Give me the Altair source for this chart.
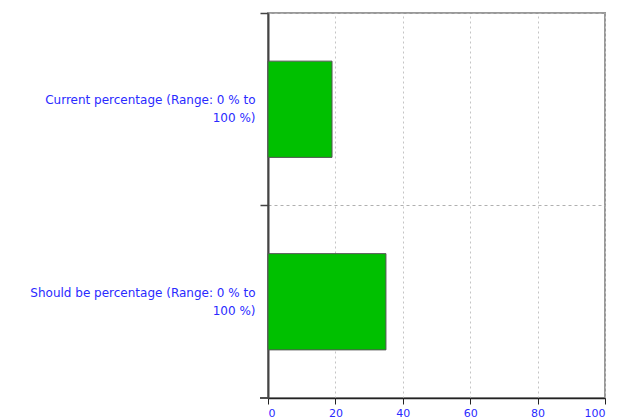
import altair as alt
import pandas as pd

categories = ["Current percentage (Range: 0 % to 100 %)",
              "Should be percentage (Range: 0 % to 100 %)"]
values = [19, 35]
x_ticks = [0, 20, 40, 60, 80, 100]

df = pd.DataFrame({"category": categories, "value": values})

label_color = "#2a2aff"

bars = alt.Chart(df).mark_bar(
    color="#00c000", stroke="#555555", strokeWidth=1, height={"band": 0.5}
).encode(
    x=alt.X("value:Q", scale=alt.Scale(domain=[0, 100], nice=False),
            axis=alt.Axis(values=x_ticks, title=None, grid=True, gridDash=[2, 3],
                          gridColor="#c4c4c4", domainColor="#222222", domainWidth=1.5,
                          tickColor="#222222", tickSize=6, labelColor=label_color,
                          labelFont="DejaVu Sans", labelFontSize=11, labelPadding=3)),
    y=alt.Y("category:N", sort=categories,
            scale=alt.Scale(paddingInner=0, paddingOuter=0),
            axis=alt.Axis(title=None, bandPosition=0, grid=True, gridDash=[3, 3],
                          gridColor="#b0b0b0", domainColor="#444444", domainWidth=2,
                          tickColor="#444444", tickSize=8, tickWidth=1.5,
                          labelColor=label_color, labelFont="DejaVu Sans",
                          labelFontSize=12, labelLineHeight=18, labelPadding=5,
                          labelLimit=0, labelBaseline="middle", labelOffset=-9,
                          labelExpr="[substring(datum.label, 0, length(datum.label) - 7), '100 %)']")),
)

bottom_tick = alt.Chart(df).mark_rule(color="#444444", strokeWidth=1.5).encode(
    x=alt.value(-8), x2=alt.value(0), y=alt.value(385)
)

chart = alt.layer(bars, bottom_tick).properties(
    width=337, height=385,
    autosize=alt.AutoSizeParams(type="none"),
    padding={"left": 260, "top": 5, "right": 11, "bottom": 25},
).configure_view(stroke="#999999", strokeWidth=2)

chart.save("out.html", embed_options={"renderer": "svg", "actions": False})
